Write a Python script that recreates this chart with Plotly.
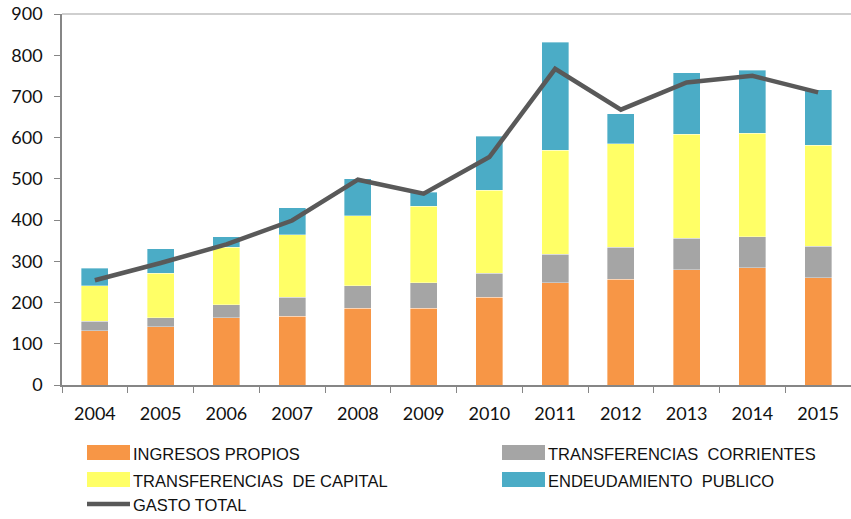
import plotly.graph_objects as go

years = ["2004", "2005", "2006", "2007", "2008", "2009", "2010", "2011", "2012", "2013", "2014", "2015"]
ingresos_propios = [132, 141, 163, 167, 186, 186, 213, 248, 257, 279, 284, 260]
transf_corrientes = [23, 22, 32, 46, 55, 62, 58, 69, 77, 77, 76, 77]
transf_capital = [86, 108, 139, 151, 169, 186, 202, 252, 251, 252, 251, 245]
endeudamiento = [42, 59, 26, 66, 90, 34, 131, 263, 73, 150, 152, 134]
gasto_total = [254, 296, 341, 399, 498, 464, 553, 767, 668, 734, 750, 710]

names = ["INGRESOS PROPIOS", "TRANSFERENCIAS  CORRIENTES", "TRANSFERENCIAS  DE CAPITAL",
         "ENDEUDAMIENTO  PUBLICO", "GASTO TOTAL"]
colors = ["#F79646", "#A5A5A5", "#FFFF66", "#4BACC6", "#595959"]

W, H = 851, 519
ML, MR, MT = 62, 0, 14
PLOT_BOTTOM = 385
MB = H - PLOT_BOTTOM

fig = go.Figure()
for vals, name, col in zip([ingresos_propios, transf_corrientes, transf_capital, endeudamiento],
                           names[:4], colors[:4]):
    fig.add_trace(go.Bar(x=years, y=vals, name=name, marker=dict(color=col, line=dict(color="rgba(255,255,255,0.6)", width=0.6)),
                         showlegend=False))
fig.add_trace(go.Scatter(x=years, y=gasto_total, name=names[4], mode="lines",
                         line=dict(color=colors[4], width=4.5), showlegend=False))

ph = H - MT - MB
pw = W - ML - MR

def px_x(x):
    return (x - ML) / pw

def px_y(y):
    return (PLOT_BOTTOM - y) / ph

shapes = []
annotations = []
# top border line
shapes.append(dict(type="line", xref="paper", yref="paper", x0=0, x1=1, y0=1, y1=1,
                   line=dict(color="#BFBFBF", width=1.5)))

legend_items = [(0, 87, 452.5), (1, 502, 452.5), (2, 87, 479.5), (3, 502, 479.5), (4, 87, 504)]
for idx, lx, ly in legend_items:
    if idx < 4:
        shapes.append(dict(type="rect", xref="paper", yref="paper",
                           x0=px_x(lx), x1=px_x(lx + 43), y0=px_y(ly - 7.5), y1=px_y(ly + 7.5),
                           fillcolor=colors[idx], line=dict(width=0)))
    else:
        shapes.append(dict(type="line", xref="paper", yref="paper",
                           x0=px_x(lx), x1=px_x(lx + 43), y0=px_y(ly), y1=px_y(ly),
                           line=dict(color=colors[idx], width=4.5)))
    annotations.append(dict(xref="paper", yref="paper", x=px_x(lx + 44), y=px_y(ly + 1),
                            text=names[idx], showarrow=False, xanchor="left", yanchor="middle",
                            font=dict(family="Liberation Sans, Arial, sans-serif", size=16.5, color="#111111")))

fig.update_layout(
    width=W, height=H,
    margin=dict(l=ML, r=MR, t=MT, b=MB, autoexpand=False),
    barmode="stack", bargap=0.59,
    plot_bgcolor="white", paper_bgcolor="white",
    font=dict(family="Lato, Open Sans, sans-serif", size=18, color="#111111"),
    shapes=shapes, annotations=annotations,
    xaxis=dict(type="category", showgrid=False, showline=True, linecolor="#868686", linewidth=1.5,
               ticks="outside", tickson="boundaries", ticklen=6, tickcolor="#868686",
               ticklabelstandoff=12, tickfont=dict(size=18), automargin=False),
    yaxis=dict(range=[0, 900], dtick=100, showgrid=False, showline=True, linecolor="#868686", linewidth=1.5,
               ticks="outside", ticklen=6, tickcolor="#868686", zeroline=False,
               ticklabelstandoff=8, ticklabeloverflow="allow",
               tickfont=dict(size=18), automargin=False),
)

fig.write_html("out.html", config={"displayModeBar": False},
               post_script="document.body.style.margin='0';document.body.style.padding='0';")
